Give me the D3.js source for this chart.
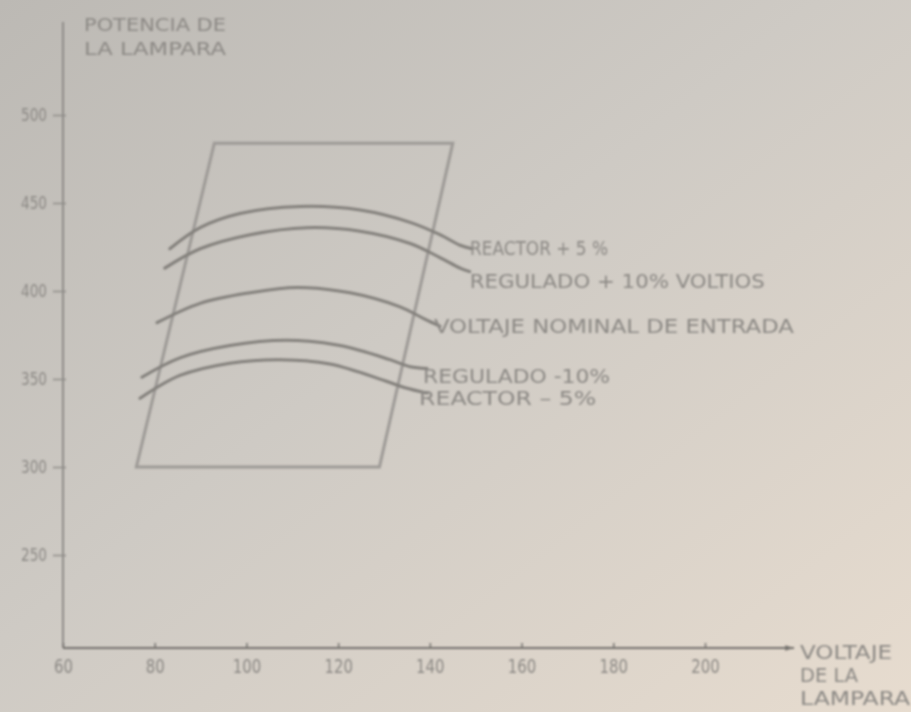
<!DOCTYPE html>
<html><head><meta charset="utf-8">
<script src="https://cdn.jsdelivr.net/npm/d3@7"></script>
<style>html,body{margin:0;padding:0;overflow:hidden;background:#d6d1ca}</style>
</head><body>
<script>
// ---- data ----
const xTicks = [60, 80, 100, 120, 140, 160, 180, 200];
const yTicks = [250, 300, 350, 400, 450, 500];
const trapVolts = [76, 93, 145, 129];
const trapWatts = [300, 484, 484, 300];
const seriesNames = ["REACTOR + 5 %", "REGULADO + 10% VOLTIOS", "VOLTAJE NOMINAL DE ENTRADA", "REGULADO -10%", "REACTOR – 5%"];
const reactorPlus5V = [83.3, 89.9, 98.6, 111.7, 124.8, 135.7, 142.2, 146.6, 149.2];
const reactorPlus5W = [424, 436, 444, 448, 446, 439, 432, 426, 424];
const reguladoPlus10V = [82.2, 89.9, 100.8, 113.2, 124.8, 135.7, 142.2, 146.6, 148.7];
const reguladoPlus10W = [413, 424, 432, 436, 434, 427, 419, 413, 411];
const nominalV = [80.5, 89.9, 100.8, 111.0, 122.6, 133.5, 138.9, 142.2];
const nominalW = [382, 393, 399, 402, 399, 391, 384, 380];
const reguladoMinus10V = [77.2, 85.5, 96.4, 108.8, 120.4, 131.3, 135.7, 139.4];
const reguladoMinus10W = [351, 362, 369, 372, 369, 361, 357, 356];
const reactorMinus5V = [76.8, 85.5, 96.4, 107.3, 118.2, 130.2, 134.6, 139.4];
const reactorMinus5W = [339, 352, 359, 361, 358.5, 349, 345, 342];
const yTitle = ["POTENCIA DE", "LA LAMPARA"];
const xTitle = ["VOLTAJE", "DE LA", "LAMPARA"];

const seriesV = [reactorPlus5V, reguladoPlus10V, nominalV, reguladoMinus10V, reactorMinus5V];
const seriesW = [reactorPlus5W, reguladoPlus10W, nominalW, reguladoMinus10W, reactorMinus5W];

// ---- layout ----
const W = 911, H = 712;
const x = d3.scaleLinear().domain([60, 200]).range([63, 705]);
const y = d3.scaleLinear().domain([250, 500]).range([555, 115]);
const axisY = 648, axisX = 63;
const ink = "#8c8985", axisInk = "#74716d";
const font = "'DejaVu Sans Condensed','Liberation Sans Narrow','Roboto',sans-serif";

const svg = d3.select("body").append("svg").attr("width", W).attr("height", H);
const defs = svg.append("defs");
const g0 = defs.append("linearGradient").attr("id", "paper").attr("x1", "0").attr("y1", "0").attr("x2", "1").attr("y2", "1");
g0.append("stop").attr("offset", "0").attr("stop-color", "#bcb9b4");
g0.append("stop").attr("offset", "0.45").attr("stop-color", "#cecac4");
g0.append("stop").attr("offset", "1").attr("stop-color", "#e7dccf");
defs.append("filter").attr("id", "blur").attr("x", "-5%").attr("y", "-5%").attr("width", "110%").attr("height", "110%")
  .append("feGaussianBlur").attr("stdDeviation", 1.0);
defs.append("marker").attr("id", "arrow").attr("viewBox", "0 0 10 10").attr("refX", 10).attr("refY", 5)
  .attr("markerWidth", 7).attr("markerHeight", 4).attr("orient", "auto").attr("markerUnits", "strokeWidth")
  .append("path").attr("d", "M0,2 L10,5 L0,8 Z").attr("fill", axisInk);

svg.append("rect").attr("width", W).attr("height", H).attr("fill", "url(#paper)");
const g = svg.append("g").attr("filter", "url(#blur)");

// axes lines
g.append("line").attr("x1", axisX).attr("x2", axisX).attr("y1", 22).attr("y2", axisY)
  .attr("stroke", "#8f8c88").attr("stroke-width", 2);
g.append("line").attr("x1", axisX).attr("x2", 794).attr("y1", axisY).attr("y2", axisY)
  .attr("stroke", axisInk).attr("stroke-width", 2.2).attr("marker-end", "url(#arrow)");

// x axis ticks/labels
const xAxis = d3.axisBottom(x).tickValues(xTicks).tickSizeInner(-5).tickSizeOuter(0).tickPadding(11).tickFormat(d => d);
const gx = g.append("g").attr("transform", `translate(0,${axisY})`).call(xAxis);
gx.select(".domain").remove();
gx.selectAll("line").attr("stroke", axisInk).attr("stroke-width", 1.5);
gx.selectAll("text").attr("fill", ink).attr("font-family", font).attr("font-size", 20)
  .attr("textLength", d => String(d).length * 9.5).attr("lengthAdjust", "spacingAndGlyphs");

// y axis ticks/labels
const yAxis = d3.axisLeft(y).tickValues(yTicks).tickSizeInner(8).tickSizeOuter(0).tickPadding(8).tickFormat(d => d);
const gy = g.append("g").attr("transform", `translate(${axisX},0)`).call(yAxis);
gy.select(".domain").remove();
gy.selectAll("line").attr("stroke", "#8f8c88").attr("stroke-width", 1.5).attr("x2", -10).attr("x1", 3);
gy.selectAll("text").attr("fill", ink).attr("font-family", font).attr("font-size", 17)
  .attr("textLength", 26).attr("lengthAdjust", "spacingAndGlyphs");

// trapezoid
const trap = trapVolts.map((v, i) => [x(v), y(trapWatts[i])]);
g.append("path").attr("d", d3.line()(trap) + "Z").attr("fill", "none")
  .attr("stroke", "#9d9a96").attr("stroke-width", 3);

// curves
const line = d3.line().x(d => x(d[0])).y(d => y(d[1])).curve(d3.curveCatmullRom.alpha(0.5));
seriesV.forEach((vs, i) => {
  const pts = vs.map((v, j) => [v, seriesW[i][j]]);
  g.append("path").attr("d", line(pts)).attr("fill", "none")
    .attr("stroke", "#83807c").attr("stroke-width", 3).attr("stroke-linecap", "round");
});

// series labels (attached to curve ends)
const labelWidths = [138, 295, 360, 187, 177];
const labelDx = [-2, 0, -6, -4, -8];
const labelDy = [-1, 10, 0, 8, 5];
seriesV.forEach((vs, i) => {
  const n = vs.length - 1;
  g.append("text").attr("x", x(vs[n]) + labelDx[i]).attr("y", y(seriesW[i][n]) + labelDy[i])
    .attr("dy", "0.36em").attr("fill", ink).attr("font-family", font).attr("font-size", 19)
    .attr("textLength", labelWidths[i]).attr("lengthAdjust", "spacingAndGlyphs").text(seriesNames[i]);
});

// axis titles
yTitle.forEach((t, i) => {
  g.append("text").attr("x", 84).attr("y", 25 + i * 24).attr("dy", "0.36em").attr("fill", ink)
    .attr("font-family", font).attr("font-size", 17).attr("textLength", 142).attr("lengthAdjust", "spacingAndGlyphs").text(t);
});
const xtLen = [92, 58, 110];
xTitle.forEach((t, i) => {
  g.append("text").attr("x", 800).attr("y", 652 + i * 23).attr("dy", "0.36em").attr("fill", ink)
    .attr("font-family", font).attr("font-size", 19).attr("textLength", xtLen[i]).attr("lengthAdjust", "spacingAndGlyphs").text(t);
});
</script>
</body></html>
